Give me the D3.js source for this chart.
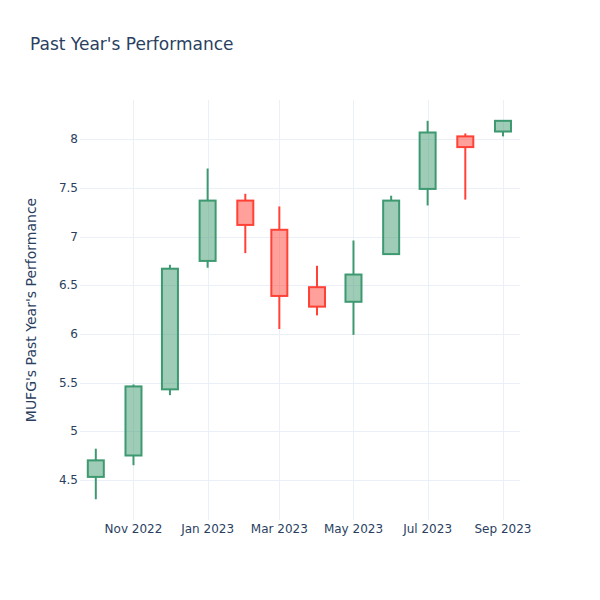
<!DOCTYPE html>
<html><head><meta charset="utf-8">
<script src="https://cdn.jsdelivr.net/npm/d3@7"></script>
<style>body{margin:0;background:#fff;font-family:"DejaVu Sans",Verdana,Arial,sans-serif;}</style>
</head><body><div id="chart"></div>
<script>
const dates = ["2022-10-01","2022-11-01","2022-12-01","2023-01-01","2023-02-01","2023-03-01","2023-04-01","2023-05-01","2023-06-01","2023-07-01","2023-08-01","2023-09-01"];
const openV  = [4.53, 4.75, 5.43, 6.75, 7.37, 7.07, 6.48, 6.33, 6.82, 7.49, 8.03, 8.08];
const highV  = [4.82, 5.48, 6.71, 7.70, 7.44, 7.31, 6.70, 6.96, 7.42, 8.19, 8.06, 8.19];
const lowV   = [4.30, 4.65, 5.37, 6.68, 6.83, 6.05, 6.19, 5.99, 6.82, 7.32, 7.38, 8.03];
const closeV = [4.70, 5.46, 6.67, 7.37, 7.12, 6.39, 6.28, 6.61, 7.37, 8.07, 7.92, 8.19];
const xTickDates = ["2022-11-01","2023-01-01","2023-03-01","2023-05-01","2023-07-01","2023-09-01"];
const yTicks = [4.5, 5, 5.5, 6, 6.5, 7, 7.5, 8];

const W = 600, H = 600, m = {l:80, r:80, t:100, b:80};
const parse = d3.utcParse("%Y-%m-%d");
const svg = d3.select("#chart").append("svg").attr("width", W).attr("height", H);

const x = d3.scaleUtc().domain([parse("2022-09-18"), parse("2023-09-15")]).range([m.l, W - m.r]);
const y = d3.scaleLinear().domain([4.087, 8.404]).range([H - m.b, m.t]);

const grid = "#EBF0F8", txt = "#2a3f5f";
svg.append("g").selectAll("line").data(yTicks).join("line")
  .attr("x1", m.l).attr("x2", W - m.r)
  .attr("y1", d => Math.round(y(d)) + 0.5).attr("y2", d => Math.round(y(d)) + 0.5)
  .attr("stroke", grid).attr("stroke-width", 1);
svg.append("g").selectAll("line").data(xTickDates).join("line")
  .attr("y1", m.t).attr("y2", H - m.b)
  .attr("x1", d => Math.round(x(parse(d))) + 0.5).attr("x2", d => Math.round(x(parse(d))) + 0.5)
  .attr("stroke", grid).attr("stroke-width", 1);

const fmt = d3.utcFormat("%b %Y");
svg.append("g").selectAll("text").data(xTickDates).join("text")
  .attr("x", d => x(parse(d))).attr("y", H - m.b + 13)
  .attr("text-anchor", "middle").attr("font-size", 12).attr("fill", txt)
  .text(d => fmt(parse(d)));
svg.append("g").selectAll("text").data(yTicks).join("text")
  .attr("x", m.l - 2).attr("y", d => y(d) + 4)
  .attr("text-anchor", "end").attr("font-size", 12).attr("fill", txt)
  .text(d => d);

const data = dates.map((d, i) => ({date: parse(d), o: openV[i], h: highV[i], l: lowV[i], c: closeV[i]}));
const boxW = 16;
const g = svg.append("g");
data.forEach(d => {
  const up = d.c >= d.o;
  const col = up ? "#3D9970" : "#FF4136";
  const fill = up ? "rgba(61,153,112,0.5)" : "rgba(255,65,54,0.5)";
  const cx = x(d.date);
  const top = y(Math.max(d.o, d.c)), bot = y(Math.min(d.o, d.c));
  g.append("line").attr("x1", cx).attr("x2", cx).attr("y1", y(d.h)).attr("y2", top)
    .attr("stroke", col).attr("stroke-width", 2);
  g.append("line").attr("x1", cx).attr("x2", cx).attr("y1", bot).attr("y2", y(d.l))
    .attr("stroke", col).attr("stroke-width", 2);
  g.append("rect").attr("x", cx - boxW / 2).attr("width", boxW)
    .attr("y", top).attr("height", Math.max(0.5, bot - top))
    .attr("fill", fill).attr("stroke", col).attr("stroke-width", 2);
});

svg.append("text").attr("x", 30).attr("y", 50).attr("font-size", 17).attr("fill", txt)
  .text("Past Year's Performance");
svg.append("text").attr("transform", `translate(36,${(m.t + H - m.b) / 2}) rotate(-90)`)
  .attr("text-anchor", "middle").attr("font-size", 14).attr("fill", txt)
  .text("MUFG's Past Year's Performance");
</script></body></html>
